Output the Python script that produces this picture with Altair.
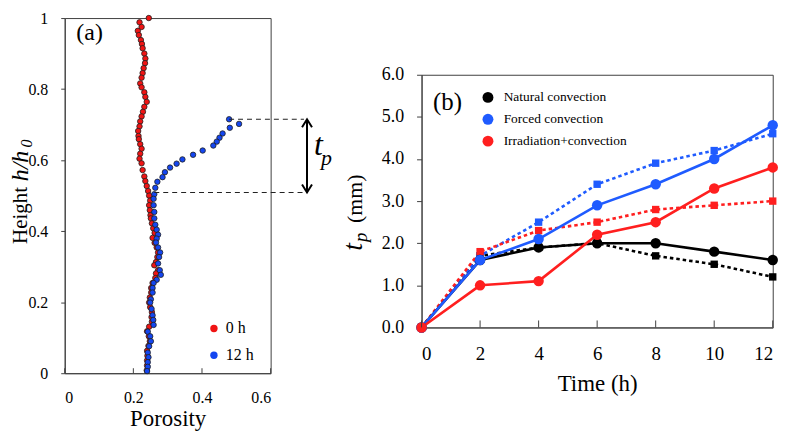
import altair as alt
import pandas as pd

FONT = "Liberation Serif"
RED_A = "#f01414"
BLUE_A = "#1446f0"
BLACK = "#000000"
BLUE_B = "#1f5bff"
RED_B = "#ff1f1f"
FRAME = "#404040"

# ---------------- Panel (a): porosity profiles ----------------
h_0h = [1.000, 0.988, 0.975, 0.964, 0.952, 0.938, 0.927, 0.915, 0.900, 0.886,
        0.873, 0.859, 0.845, 0.832, 0.816, 0.805, 0.791, 0.778, 0.764, 0.750,
        0.736, 0.723, 0.709, 0.695, 0.682, 0.668, 0.659, 0.645, 0.632, 0.618,
        0.604, 0.591, 0.572, 0.554, 0.541, 0.527, 0.513, 0.500, 0.486, 0.473,
        0.459, 0.445, 0.436, 0.422, 0.408, 0.395, 0.381, 0.367, 0.354, 0.340,
        0.327, 0.313, 0.304, 0.290, 0.281, 0.268, 0.254, 0.240, 0.227, 0.213,
        0.199, 0.186, 0.172, 0.158, 0.145, 0.131, 0.118, 0.104, 0.090, 0.077,
        0.063, 0.049, 0.036, 0.022, 0.008]
por_0h = [0.245, 0.218, 0.224, 0.213, 0.216, 0.222, 0.225, 0.227, 0.232, 0.235,
          0.234, 0.230, 0.227, 0.224, 0.220, 0.224, 0.232, 0.235, 0.239, 0.232,
          0.228, 0.224, 0.220, 0.218, 0.214, 0.215, 0.216, 0.220, 0.224, 0.220,
          0.218, 0.224, 0.227, 0.232, 0.235, 0.239, 0.243, 0.246, 0.249, 0.246,
          0.248, 0.250, 0.251, 0.254, 0.258, 0.262, 0.256, 0.262, 0.268, 0.272,
          0.270, 0.266, 0.261, 0.272, 0.266, 0.264, 0.256, 0.252, 0.252, 0.248,
          0.246, 0.249, 0.254, 0.253, 0.254, 0.246, 0.240, 0.245, 0.248, 0.244,
          0.240, 0.241, 0.240, 0.240, 0.239]

h_12h = [0.715, 0.702, 0.691, 0.675, 0.663, 0.652, 0.641, 0.627, 0.615, 0.602,
         0.590, 0.579, 0.566, 0.552, 0.539, 0.522, 0.504, 0.491, 0.473, 0.454,
         0.436, 0.418, 0.404, 0.390, 0.379, 0.368, 0.354, 0.340, 0.327, 0.309,
         0.290, 0.277, 0.263, 0.254, 0.240, 0.227, 0.208, 0.199, 0.181, 0.163,
         0.150, 0.136, 0.117, 0.104, 0.090, 0.076, 0.058, 0.045, 0.031, 0.018,
         0.006]
por_12h = [0.479, 0.508, 0.481, 0.460, 0.451, 0.443, 0.433, 0.402, 0.374, 0.343,
           0.326, 0.307, 0.292, 0.285, 0.270, 0.264, 0.261, 0.259, 0.259, 0.261,
           0.261, 0.264, 0.268, 0.272, 0.268, 0.266, 0.272, 0.278, 0.275, 0.272,
           0.277, 0.280, 0.268, 0.259, 0.256, 0.256, 0.251, 0.249, 0.253, 0.256,
           0.258, 0.259, 0.242, 0.249, 0.251, 0.246, 0.242, 0.244, 0.242, 0.242,
           0.240]

series_a = ["0 h", "12 h"]
ticks_a_x = [0, 0.2, 0.4, 0.6]
ticks_a_y = [0, 0.2, 0.4, 0.6, 0.8, 1.0]

# t_p annotation (height of the front and of the original profile)
tp_heights = [0.715, 0.509]
tp_start_por = [0.479, 0.261]
tp_end_por = [0.697, 0.697]
tp_arrow_por = 0.706

# ---------------- Panel (b): t_p vs time ----------------
time_h = [0, 2, 4, 6, 8, 10, 12]
series_b = ["Natural convection", "Forced convection", "Irradiation+convection"]
natural_solid = [0.0, 1.6, 1.9, 2.0, 2.0, 1.8, 1.6]
natural_dotted = [0.0, 1.7, 1.9, 2.0, 1.7, 1.5, 1.2]
forced_solid = [0.0, 1.6, 2.1, 2.9, 3.4, 4.0, 4.8]
forced_dotted = [0.0, 1.7, 2.5, 3.4, 3.9, 4.2, 4.6]
irrad_solid = [0.0, 1.0, 1.1, 2.2, 2.5, 3.3, 3.8]
irrad_dotted = [0.0, 1.8, 2.3, 2.5, 2.8, 2.9, 3.0]
ticks_b_x = [0, 2, 4, 6, 8, 10, 12]
ticks_b_y = [0, 1, 2, 3, 4, 5, 6]

W_A, H_A = 207, 357
W_B, H_B = 353, 254
SPACER_H = 57
GAP = 151.7

# ---------- build panel (a) ----------
xs_a = alt.Scale(domain=[0, 0.6], nice=False)
ys_a = alt.Scale(domain=[0, 1], nice=False)
AX_A_X = alt.Axis(values=ticks_a_x, format="~g", title="Porosity", ticks=False,
                  labelFont=FONT, labelFontSize=16, labelColor="black", labelPadding=16,
                  titleFont=FONT, titleFontSize=23, titleFontWeight="normal",
                  titleColor="black", titlePadding=3, grid=False, domainColor=FRAME)
AX_A_Y = alt.Axis(values=ticks_a_y, format="~g", title=None, tickSize=4,
                  tickColor=FRAME, labelFont=FONT, labelFontSize=16,
                  labelColor="black", labelPadding=13, grid=False, domainColor=FRAME)
XA = dict(scale=xs_a, axis=AX_A_X)
YA = dict(scale=ys_a, axis=AX_A_Y)

df_a = pd.DataFrame({
    "porosity": por_0h + por_12h,
    "height": h_0h + h_12h,
    "time": [series_a[0]] * len(h_0h) + [series_a[1]] * len(h_12h),
})

pts_a = alt.Chart(df_a).mark_circle(size=30, opacity=1, stroke="#202020", strokeWidth=0.8).encode(
    x=alt.X("porosity:Q", **XA),
    y=alt.Y("height:Q", **YA),
    color=alt.Color("time:N", scale=alt.Scale(domain=series_a, range=[RED_A, BLUE_A]),
                    legend=alt.Legend(title=None, orient="none", legendX=142, legendY=304,
                                      symbolType="circle", symbolSize=55, symbolStrokeWidth=0,
                                      labelFont=FONT, labelFontSize=16, labelColor="black",
                                      labelOffset=4, rowPadding=11, padding=0)),
)

tick_a = alt.Chart(pd.DataFrame({"porosity": ticks_a_x})).mark_rule(color=FRAME, strokeWidth=1).encode(
    x=alt.X("porosity:Q", **XA),
    y=alt.value(H_A), y2=alt.value(H_A - 5),
)

dash_df = pd.DataFrame({"height": tp_heights, "porosity": tp_start_por, "x1": tp_end_por})
dashes = alt.Chart(dash_df).mark_rule(strokeDash=[5, 4], color="#222222", strokeWidth=1.1).encode(
    x=alt.X("porosity:Q", **XA), x2="x1:Q",
    y=alt.Y("height:Q", **YA),
)
arrow_df = pd.DataFrame({"porosity": [tp_arrow_por], "height": [tp_heights[1]], "hi": [tp_heights[0]]})
shaft = alt.Chart(arrow_df).mark_rule(color="black", strokeWidth=2).encode(
    x=alt.X("porosity:Q", **XA),
    y=alt.Y("height:Q", **YA), y2="hi:Q",
)
head_top = alt.Chart(arrow_df).mark_point(shape="M-1,1.6L0,0L1,1.6", size=100, filled=False,
                                          color="black", strokeWidth=2, opacity=1).encode(
    x=alt.X("porosity:Q", **XA), y=alt.Y("hi:Q", **YA))
head_bot = alt.Chart(arrow_df).mark_point(shape="M-1,-1.6L0,0L1,-1.6", size=100, filled=False,
                                          color="black", strokeWidth=2, opacity=1).encode(
    x=alt.X("porosity:Q", **XA), y=alt.Y("height:Q", **YA))

tp_lab_df = pd.DataFrame({"porosity": [0.726, 0.747], "height": [0.615, 0.585], "s": ["t", "p"]})
tp_t = alt.Chart(tp_lab_df.iloc[[0]]).mark_text(font=FONT, fontStyle="italic", fontSize=32,
                                               align="left", baseline="alphabetic").encode(
    x=alt.X("porosity:Q", **XA), y=alt.Y("height:Q", **YA), text="s:N")
tp_p = alt.Chart(tp_lab_df.iloc[[1]]).mark_text(font=FONT, fontStyle="italic", fontSize=22,
                                               align="left", baseline="alphabetic").encode(
    x=alt.X("porosity:Q", **XA), y=alt.Y("height:Q", **YA), text="s:N")

lab_a = alt.Chart(pd.DataFrame({"s": ["(a)"]})).mark_text(font=FONT, fontSize=24, align="center",
                                                           baseline="middle").encode(
    x=alt.value(25), y=alt.value(15), text="s:N")

ytitle_a1 = alt.Chart(pd.DataFrame({"s": ["Height"]})).mark_text(
    font=FONT, fontSize=21, angle=270, align="left", baseline="middle").encode(
    x=alt.value(-44), y=alt.value(227), text="s:N")
ytitle_a2 = alt.Chart(pd.DataFrame({"s": ["h/h"]})).mark_text(
    font=FONT, fontSize=24, fontStyle="italic", angle=270, align="left", baseline="middle").encode(
    x=alt.value(-44), y=alt.value(164), text="s:N")
ytitle_a3 = alt.Chart(pd.DataFrame({"s": ["0"]})).mark_text(
    font=FONT, fontSize=16, fontStyle="italic", angle=270, align="left", baseline="middle").encode(
    x=alt.value(-38), y=alt.value(130), text="s:N")

panel_a = alt.layer(pts_a, tick_a, dashes, shaft, head_top, head_bot, tp_t, tp_p, lab_a,
                    ytitle_a1, ytitle_a2, ytitle_a3).properties(width=W_A, height=H_A)

# ---------- build panel (b) ----------
rows = []
for name, solid, dotted in zip(series_b, [natural_solid, forced_solid, irrad_solid],
                               [natural_dotted, forced_dotted, irrad_dotted]):
    for t, v in zip(time_h, solid):
        rows.append({"time": t, "tp": v, "series": name, "kind": "solid"})
    for t, v in zip(time_h, dotted):
        rows.append({"time": t, "tp": v, "series": name, "kind": "dotted"})
df_b = pd.DataFrame(rows)
solid_df = df_b[df_b.kind == "solid"]
dotted_df = df_b[df_b.kind == "dotted"]

xs_b = alt.Scale(domain=[0, 12], nice=False)
ys_b = alt.Scale(domain=[0, 6], nice=False)
cs_b = alt.Scale(domain=series_b, range=[BLACK, BLUE_B, RED_B])
AX_B_X = alt.Axis(values=ticks_b_x, title="Time (h)", ticks=False, labelFont=FONT,
                  labelFontSize=19, labelColor="black", labelPadding=17,
                  titleFont=FONT, titleFontSize=23, titleFontWeight="normal",
                  titleColor="black", titlePadding=9, grid=False, domainColor=FRAME)
AX_B_Y = alt.Axis(values=ticks_b_y, format=".1f", title=None, tickSize=5,
                  tickColor=FRAME, labelFont=FONT, labelFontSize=18,
                  labelColor="black", labelPadding=13, grid=False, domainColor=FRAME)
XB = dict(scale=xs_b, axis=AX_B_X)
YB = dict(scale=ys_b, axis=AX_B_Y)
LEG_B = alt.Legend(title=None, orient="none", legendX=60, legendY=SPACER_H + 16,
                   symbolType="circle", symbolSize=120, symbolStrokeWidth=0,
                   labelFont=FONT, labelFontSize=13.5, labelColor="black",
                   labelOffset=9, rowPadding=7, padding=0)

dot_lines = alt.Chart(dotted_df).mark_line(strokeWidth=2.6, strokeDash=[3.5, 3]).encode(
    x=alt.X("time:Q", **XB), y=alt.Y("tp:Q", **YB),
    color=alt.Color("series:N", scale=cs_b, legend=LEG_B), detail="series:N")
squares = alt.Chart(dotted_df).mark_square(size=55, opacity=1).encode(
    x=alt.X("time:Q", **XB), y=alt.Y("tp:Q", **YB),
    color=alt.Color("series:N", scale=cs_b, legend=LEG_B))
solid_lines = alt.Chart(solid_df).mark_line(strokeWidth=2.6).encode(
    x=alt.X("time:Q", **XB), y=alt.Y("tp:Q", **YB),
    color=alt.Color("series:N", scale=cs_b, legend=LEG_B), detail="series:N")
circles = alt.Chart(solid_df).mark_circle(size=110, opacity=1).encode(
    x=alt.X("time:Q", **XB), y=alt.Y("tp:Q", **YB),
    color=alt.Color("series:N", scale=cs_b, legend=LEG_B))
tick_b = alt.Chart(pd.DataFrame({"time": ticks_b_x})).mark_rule(color=FRAME, strokeWidth=1).encode(
    x=alt.X("time:Q", **XB),
    y=alt.value(H_B), y2=alt.value(H_B - 7),
)
lab_b = alt.Chart(pd.DataFrame({"s": ["(b)"]})).mark_text(font=FONT, fontSize=25, align="center",
                                                           baseline="middle").encode(
    x=alt.value(26), y=alt.value(27), text="s:N")

ytitle_b1 = alt.Chart(pd.DataFrame({"s": ["t"]})).mark_text(
    font=FONT, fontSize=28, fontStyle="italic", angle=270, align="left", baseline="alphabetic").encode(
    x=alt.value(-60), y=alt.value(177), text="s:N")
ytitle_b2 = alt.Chart(pd.DataFrame({"s": ["p"]})).mark_text(
    font=FONT, fontSize=19, fontStyle="italic", angle=270, align="left", baseline="alphabetic").encode(
    x=alt.value(-55), y=alt.value(168), text="s:N")
ytitle_b3 = alt.Chart(pd.DataFrame({"s": ["(mm)"]})).mark_text(
    font=FONT, fontSize=22, angle=270, align="left", baseline="alphabetic").encode(
    x=alt.value(-60), y=alt.value(149), text="s:N")

panel_b = alt.layer(dot_lines, squares, solid_lines, circles, tick_b, lab_b,
                    ytitle_b1, ytitle_b2, ytitle_b3).properties(width=W_B, height=H_B)

spacer = alt.Chart(pd.DataFrame({"s": [0]})).mark_point(opacity=0).encode(
    x=alt.X("s:Q", axis=None), y=alt.Y("s:Q", axis=None)
).properties(width=W_B, height=SPACER_H, view=alt.ViewBackground(stroke="transparent"))

right = alt.vconcat(spacer, panel_b, spacing=0, bounds="flush")
chart = alt.hconcat(panel_a, right, spacing=GAP, bounds="flush").resolve_scale(
    color="independent"
).resolve_legend(color="independent").properties(
    padding={"left": 0, "top": 0, "right": 0, "bottom": 0}
).configure(font=FONT).configure_view(stroke=FRAME, strokeWidth=1).configure_axis(
    labelFont=FONT, titleFont=FONT, titleFontWeight="normal", labelColor="black",
    titleColor="black"
).configure_legend(labelFont=FONT).configure_text(font=FONT)

chart.save("out.html", embed_options={"renderer": "svg", "actions": False})
